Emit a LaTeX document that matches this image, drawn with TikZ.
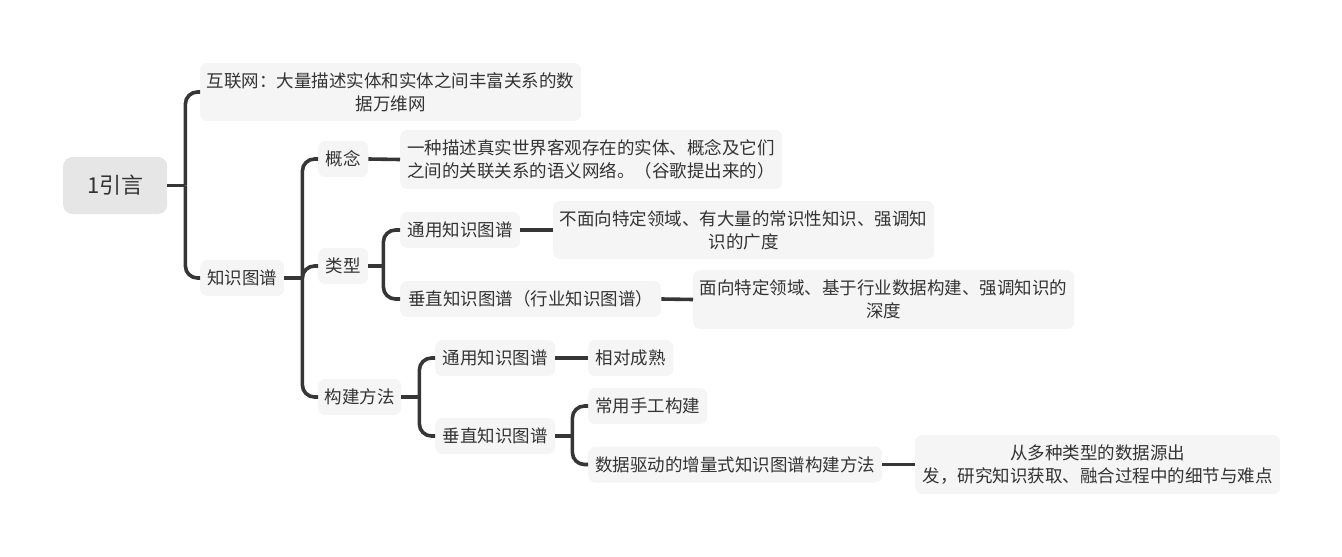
\documentclass[tikz,border=0pt]{standalone}
\usepackage{fontspec}
\setmainfont{Noto Sans CJK SC}
\definecolor{boxfill}{HTML}{F5F5F5}
\definecolor{rootfill}{HTML}{E6E6E6}
\definecolor{txt}{HTML}{333333}
\definecolor{linec}{HTML}{363636}
\begin{document}
\begin{tikzpicture}[x=1pt,y=-1pt,
  box/.style={draw=none, fill=boxfill, rounded corners=7pt, inner sep=0pt, anchor=west, align=center, text=txt, font=\fontsize{17.5}{23}\selectfont},
  rootbox/.style={box, fill=rootfill, rounded corners=9pt, font=\fontsize{22}{26}\selectfont},
  conn/.style={draw=linec, line width=3.6pt},
  bus/.style={conn, rounded corners=12pt}]
\useasboundingbox (0,0) rectangle (1342,557);
% nodes
\node[rootbox, minimum width=104pt, minimum height=57pt] (root) at (63,185.5) {1引言};
\node[box, minimum width=381pt, minimum height=58pt] (web) at (200,92) {互联网：大量描述实体和实体之间丰富关系的数\\据万维网};
\node[box, minimum width=84pt, minimum height=36pt] (kg) at (200,278) {知识图谱};
\node[box, minimum width=50pt, minimum height=36pt] (concept) at (318,159) {概念};
\node[box, minimum width=382pt, minimum height=59pt] (cdesc) at (400,159.5) {一种描述真实世界客观存在的实体、概念及它们\\之间的关联关系的语义网络。（谷歌提出来的）};
\node[box, minimum width=50pt, minimum height=36pt] (type) at (318,266) {类型};
\node[box, minimum width=120pt, minimum height=36pt] (gen) at (400,230) {通用知识图谱};
\node[box, minimum width=381pt, minimum height=58pt] (gdesc) at (553,230) {不面向特定领域、有大量的常识性知识、强调知\\识的广度};
\node[box, minimum width=261pt, minimum height=36pt] (vert) at (400,299) {垂直知识图谱（行业知识图谱）};
\node[box, minimum width=381pt, minimum height=59pt] (vdesc) at (693,299.5) {面向特定领域、基于行业数据构建、强调知识的\\深度};
\node[box, minimum width=83pt, minimum height=36pt] (build) at (318,397) {构建方法};
\node[box, minimum width=120pt, minimum height=36pt] (bgen) at (435,358) {通用知识图谱};
\node[box, minimum width=85pt, minimum height=36pt] (mature) at (588,358) {相对成熟};
\node[box, minimum width=120pt, minimum height=36pt] (bvert) at (435,436) {垂直知识图谱};
\node[box, minimum width=119pt, minimum height=36pt] (manual) at (588,406) {常用手工构建};
\node[box, minimum width=294pt, minimum height=36pt] (data) at (588,464.5) {数据驱动的增量式知识图谱构建方法};
\node[box, minimum width=365pt, minimum height=59pt] (ddesc) at (915,464.5) {从多种类型的数据源出\\发，研究知识获取、融合过程中的细节与难点};
% bus points
\coordinate (b0) at ([xshift=18pt]root.east);
\coordinate (b1) at ([xshift=18pt]kg.east);
\coordinate (b2) at ([xshift=15pt]type.east);
\coordinate (b3) at ([xshift=18pt]build.east);
\coordinate (b4) at ([xshift=17pt]bvert.east);
% connectors
\draw[conn] (root.east) -- (b0);
\draw[bus] (b0) |- (web.west);
\draw[bus] (b0) |- (kg.west);
\draw[conn] (kg.east) -- (b1);
\draw[bus] (b1) |- (concept.west);
\draw[bus] (b1) |- (type.west);
\draw[bus] (b1) |- (build.west);
\draw[conn] (concept.east) -- (cdesc.west);
\draw[conn] (type.east) -- (b2);
\draw[bus] (b2) |- (gen.west);
\draw[bus] (b2) |- (vert.west);
\draw[conn] (gen.east) -- (gdesc.west);
\draw[conn] (vert.east) -- (vdesc.west);
\draw[conn] (build.east) -- (b3);
\draw[bus] (b3) |- (bgen.west);
\draw[bus] (b3) |- (bvert.west);
\draw[conn] (bgen.east) -- (mature.west);
\draw[conn] (bvert.east) -- (b4);
\draw[bus] (b4) |- (manual.west);
\draw[bus] (b4) |- (data.west);
\draw[conn] (data.east) -- (ddesc.west);
\end{tikzpicture}
\end{document}
